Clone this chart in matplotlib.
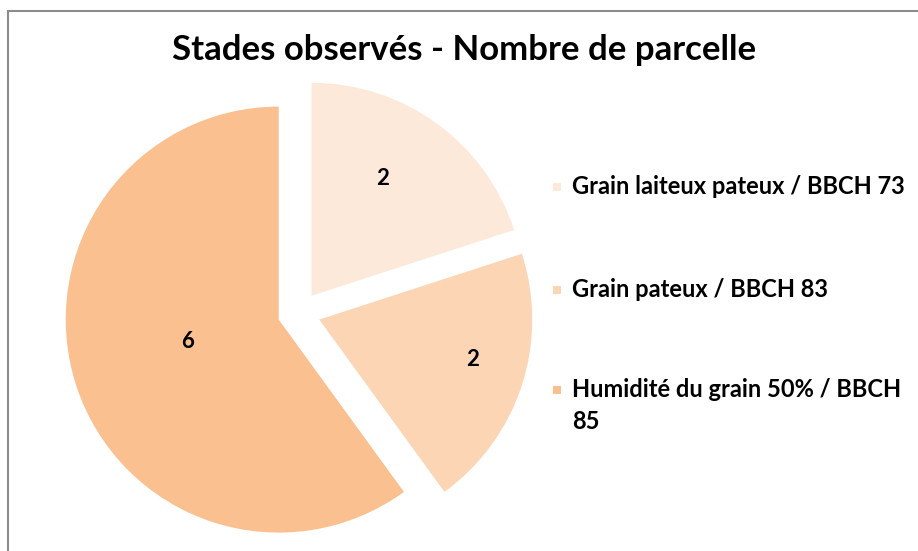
import matplotlib.pyplot as plt
from matplotlib.patches import Rectangle
import numpy as np

# data
stades = ["Grain laiteux pateux / BBCH 73",
          "Grain pateux / BBCH 83",
          "Humidité du grain 50% / BBCH\n85"]
nb_parcelles = [2, 2, 6]
couleurs = ["#FDE9D9", "#FCD5B5", "#FAC090"]
# where the value labels sit inside each slice (fraction of radius, angle tweak)
label_dist = [0.65, 0.74, 0.44]
label_rot = [5, 4, -5.5]

plt.rcParams['font.family'] = ['Lato', 'DejaVu Sans']

W, H = 918, 551
fig = plt.figure(figsize=(W / 100, H / 100), dpi=100)

# grey chart border (runs off the right and bottom edges)
fig.patches.append(Rectangle((8 / W, -0.05), 1.0, 1 - 11 / H + 0.05,
                             transform=fig.transFigure, fill=False,
                             edgecolor="#8c8c8c", linewidth=1.5))

# pie axes: square, centred on (299, 313) px from top-left, half-size 250 px
S = 250
cx, cy = 299, H - 313
ax = fig.add_axes([(cx - S) / W, (cy - S) / H, 2 * S / W, 2 * S / H])

R = 213 / S
wedges, _ = ax.pie(nb_parcelles, colors=couleurs, startangle=90, counterclock=False,
                   radius=R, explode=[0.1 * R] * 3,
                   wedgeprops=dict(linewidth=0))
ax.set_xlim(-1, 1)
ax.set_ylim(-1, 1)
ax.set_aspect("equal")
ax.axis("off")
for w in wedges:
    w.set_clip_on(False)

for w, v, d, r in zip(wedges, nb_parcelles, label_dist, label_rot):
    ang = np.deg2rad((w.theta1 + w.theta2) / 2 + r)
    x0, y0 = w.center
    ax.annotate(str(v), (x0 + d * R * np.cos(ang), y0 + d * R * np.sin(ang)),
                xytext=(0, -1), textcoords="offset points",
                ha="center", va="center", fontsize=16, fontweight="bold")

fig.text(464 / W, 1 - 50 / H, "Stades observés - Nombre de parcelle",
         ha="center", va="center", fontsize=25, fontweight="bold")

# legend
leg_y = [187, 290, 390]
for lab, c, y in zip(stades, couleurs, leg_y):
    fig.patches.append(Rectangle((553 / W, 1 - (y + 4) / H), 8 / W, 8 / H,
                                 transform=fig.transFigure, facecolor=c,
                                 edgecolor="none"))
    fig.text(572 / W, 1 - (y - 12) / H, lab, ha="left", va="top",
             fontsize=17, fontweight="bold", linespacing=1.45)

fig.savefig("out.png", dpi=100)
